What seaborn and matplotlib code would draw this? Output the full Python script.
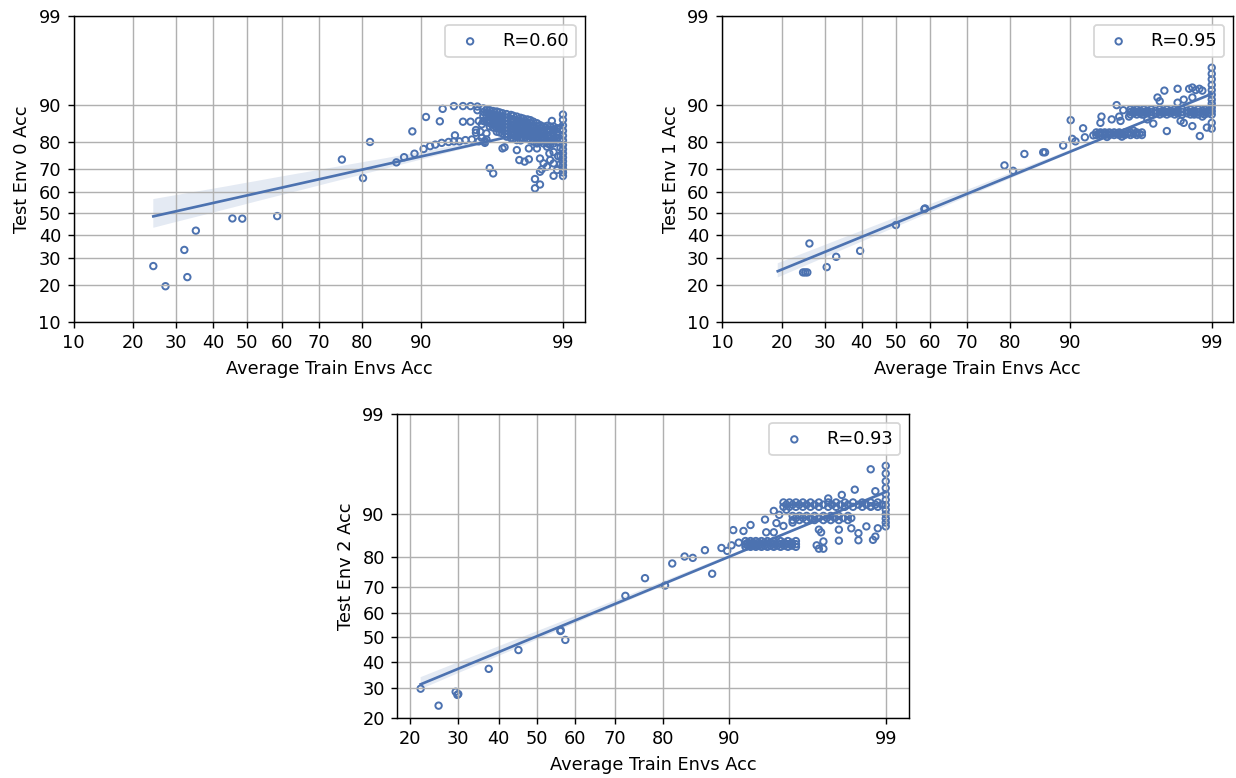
from statistics import NormalDist

import numpy as np
import pandas as pd
import seaborn as sns
from matplotlib import pyplot as plt

# accuracies in percent
env0_train = [24.4, 27.3, 32.1, 32.9, 35.2, 45.6, 48.5, 58.7, 75.7, 80.3, 81.7, 86.4, 87.6, 89.1, 88.8,
              90.3, 90.6, 92.2, 92.5, 93.6, 94.4, 94.4, 95.0, 95.0, 93.7,
              91.1, 91.7, 92.4, 93.1, 93.6, 94.1, 94.6, 95.1, 95.6, 96.0, 96.1, 95.8, 96.0,
              95.4, 95.8, 95.6, 95.9, 96.2, 95.4, 95.7, 96.1,
              95.5, 95.5, 95.9, 95.9, 95.9,
              96.3, 96.3, 96.3, 96.3, 96.3, 96.3,
              96.7, 96.7, 96.7, 96.7, 96.7, 96.7, 96.7,
              97.0, 97.0, 97.0, 97.0, 97.0, 97.0, 97.0,
              97.4, 97.4, 97.4, 97.4, 97.4, 97.4, 97.4, 97.4,
              97.65, 97.65, 97.65, 97.65, 97.65, 97.65, 97.65, 97.65,
              97.9, 97.9, 97.9, 97.9, 97.9, 97.9, 97.9,
              98.15, 98.15, 98.15, 98.15, 98.15, 98.15, 98.15,
              98.36, 98.36, 98.36, 98.36, 98.36, 98.36, 98.36,
              98.55, 98.55, 98.55, 98.55, 98.55, 98.55,
              98.72, 98.72, 98.72, 98.72, 98.72, 98.72,
              98.88, 98.88, 98.88, 98.88, 98.88,
              96.1, 96.1, 96.1, 96.1,
              96.5, 96.5, 96.5, 96.5, 96.5, 96.5,
              96.85, 96.85, 96.85, 96.85, 96.85, 96.85, 96.85,
              97.2, 97.2, 97.2, 97.2, 97.2, 97.2, 97.2, 97.2,
              97.5, 97.5, 97.5, 97.5, 97.5, 97.5, 97.5, 97.5,
              97.8, 97.8, 97.8, 97.8, 97.8, 97.8, 97.8, 97.8,
              98.05, 98.05, 98.05, 98.05, 98.05, 98.05, 98.05,
              98.25, 98.25, 98.25, 98.25, 98.25, 98.25, 98.25,
              98.45, 98.45, 98.45, 98.45, 98.45, 98.45,
              98.65, 98.65, 98.65, 98.65, 98.65, 98.65,
              98.8, 98.8, 98.8, 98.8, 98.8, 98.8,
              97.0, 97.65, 98.1, 98.36, 97.75, 97.95, 98.1, 98.45, 98.55, 98.64, 98.45, 98.5, 98.72,
              98.8, 98.88, 98.8, 98.3, 98.45, 98.3, 96.3, 96.5, 98.76, 98.64, 98.8, 98.9, 98.7, 97.1,
              99.0, 99.0, 99.0, 99.0, 99.0, 99.0, 99.0, 99.0, 99.0, 99.0, 99.0, 99.0, 99.0, 99.0, 99.0,
              98.95, 98.95, 98.95, 98.95, 98.95]
env0_test = [26.7, 19.5, 33.3, 22.6, 41.9, 47.6, 47.5, 48.7, 73.7, 66.1, 80.0, 72.6, 74.6, 75.9, 83.3,
             77.6, 87.2, 86.1, 89.1, 89.7, 89.7, 86.0, 86.0, 89.7, 82.1,
             78.6, 79.1, 79.7, 80.0, 80.2, 80.2, 80.6, 80.8, 80.2, 79.7, 80.8, 81.3, 80.3,
             83.7, 85.3, 86.2, 86.2, 86.2, 82.9, 83.2, 82.7,
             89.6, 88.8, 89.2, 88.4, 87.5,
             88.8, 88.1, 87.3, 86.4, 85.6, 84.7,
             88.5, 87.7, 86.8, 86.0, 85.1, 84.2, 83.2,
             88.1, 87.3, 86.4, 85.6, 84.7, 83.7, 82.7,
             87.7, 86.8, 86.0, 85.1, 84.2, 83.2, 82.2, 81.2,
             87.3, 86.4, 85.6, 84.7, 83.7, 82.7, 81.7, 80.6,
             86.8, 86.0, 85.1, 84.2, 83.2, 82.2, 81.2,
             86.4, 85.6, 84.7, 83.7, 82.7, 81.7, 80.6,
             85.6, 84.7, 83.7, 82.7, 81.7, 80.6, 79.5,
             84.7, 83.7, 82.7, 81.7, 80.6, 79.5,
             84.7, 83.7, 82.2, 81.2, 80.1, 79.0,
             84.2, 83.2, 82.2, 81.2, 80.1,
             88.9, 88.2, 87.0, 85.9,
             88.6, 87.9, 87.0, 86.2, 85.3, 84.4,
             88.3, 87.5, 86.6, 85.8, 84.9, 84.0, 83.0,
             87.9, 87.0, 86.2, 85.3, 84.4, 83.5, 82.5, 81.7,
             87.5, 86.6, 85.8, 84.9, 84.0, 83.0, 82.0, 81.0,
             87.0, 86.2, 85.3, 84.4, 83.5, 82.5, 81.5, 80.5,
             86.6, 85.8, 84.9, 84.0, 83.0, 82.0, 81.0,
             86.0, 85.1, 84.2, 83.2, 82.2, 81.2, 80.1,
             85.1, 84.2, 83.2, 82.2, 81.2, 80.1,
             84.9, 84.0, 83.0, 81.7, 80.6, 79.5,
             84.7, 83.7, 82.7, 81.7, 80.6, 79.5,
             77.8, 77.2, 77.8, 77.8, 73.5, 72.9, 73.8, 74.1, 72.2, 70.9, 68.8, 69.8, 73.5,
             72.2, 69.5, 67.1, 65.7, 63.3, 61.6, 70.3, 68.1, 86.2, 78.4, 76.5, 75.0, 76.0, 78.2,
             87.8, 86.5, 85.0, 83.5, 82.0, 80.5, 79.0, 77.5, 76.0, 74.5, 73.0, 71.5, 70.0, 68.5, 67.0,
             84.0, 81.0, 78.0, 75.0, 72.0]

env1_train = [19.2, 24.7, 25.2, 25.7, 26.2, 30.5, 33.0, 39.6, 50.0, 58.3, 58.5, 78.8, 80.6, 82.8, 86.1, 86.4,
              89.1, 90.1, 90.3, 90.7, 91.6, 91.8, 92.7, 93.4, 93.5, 94.8, 95.3, 95.0, 95.7, 94.4, 95.1,
              93.0, 93.0, 93.4, 93.4, 93.8, 93.8, 94.2, 94.2, 94.6, 94.6, 95.0, 95.0, 95.4, 95.4,
              95.8, 95.8, 96.2, 96.2, 96.5, 96.5, 94.0, 95.2, 96.0,
              93.2, 93.6, 94.0, 94.4, 94.8, 95.2, 95.6, 96.0, 96.35,
              95.8, 95.8, 95.8, 96.2, 96.2, 96.2, 96.6, 96.6, 96.6, 97.0, 97.0, 97.0, 97.4, 97.4, 97.4,
              97.7, 97.7, 97.7, 98.0, 98.0, 98.0, 98.25, 98.25, 98.25, 98.5, 98.5, 98.5,
              98.7, 98.7, 98.7, 98.85, 98.85, 98.85,
              96.0, 96.0, 96.4, 96.4, 96.8, 96.8, 97.2, 97.2, 97.55, 97.55, 97.85, 97.85,
              98.1, 98.1, 98.4, 98.4, 98.6, 98.6, 98.8, 98.8, 98.93, 98.93,
              97.3, 97.6, 98.1, 98.46, 98.55, 98.64, 98.73, 98.8, 97.4, 98.1, 98.3, 98.55,
              97.1, 97.7, 98.2, 98.3, 98.55, 98.74, 98.9, 99.0, 99.0, 96.8, 96.5, 98.6, 98.8,
              99.0, 99.0, 99.0, 99.0, 99.0, 99.0, 99.0, 99.0, 99.0, 99.0, 99.0]
env1_test = [9.0, 24.3, 24.3, 24.3, 36.1, 26.3, 30.4, 32.9, 44.5, 52.0, 52.3, 71.4, 69.2, 75.8, 76.4, 76.4,
             78.8, 86.4, 81.0, 80.2, 84.2, 81.5, 82.1, 85.7, 87.3, 89.9, 88.8, 87.3, 87.3, 86.6, 86.2,
             83.0, 82.2, 83.0, 82.2, 83.0, 82.2, 83.0, 82.2, 83.0, 82.2, 83.0, 82.2, 83.0, 82.2,
             83.0, 82.2, 83.0, 82.2, 83.0, 82.2, 81.6, 81.7, 83.5,
             82.6, 82.6, 82.6, 82.6, 82.6, 82.6, 82.6, 82.6, 82.6,
             89.0, 88.4, 87.8, 89.0, 88.4, 87.8, 89.0, 88.4, 87.8, 89.0, 88.4, 87.8, 89.0, 88.4, 87.8,
             89.0, 88.4, 87.8, 89.0, 88.4, 87.8, 89.0, 88.4, 87.8, 89.0, 88.4, 87.8,
             89.0, 88.4, 87.8, 89.0, 88.4, 87.8,
             88.7, 88.1, 88.7, 88.1, 88.7, 88.1, 88.7, 88.1, 88.7, 88.1, 88.7, 88.1,
             88.7, 88.1, 88.7, 88.1, 88.7, 88.1, 88.7, 88.1, 88.7, 88.1,
             91.4, 92.6, 92.9, 92.9, 93.1, 92.7, 92.9, 92.6, 90.7, 90.4, 91.0, 91.4,
             85.5, 83.4, 86.2, 85.7, 84.8, 81.9, 84.4, 84.1, 85.7, 86.6, 87.8, 87.8, 87.3,
             95.7, 95.0, 94.3, 93.5, 92.7, 91.9, 91.0, 90.2, 89.4, 88.6, 87.8]

env2_train = [22.0, 25.7, 29.5, 29.9, 30.1, 37.5, 45.2, 56.3, 56.4, 57.6, 72.3, 76.5, 80.4, 81.7, 83.8, 85.1,
              86.9, 87.9, 89.1, 89.8, 90.3, 90.5, 91.1, 91.6, 92.3, 93.6, 93.7, 94.3, 94.3, 94.5, 95.0,
              95.6, 94.7, 95.2,
              91.8, 91.8, 91.8, 92.3, 92.3, 92.3, 92.8, 92.8, 92.8, 93.3, 93.3, 93.3, 93.8, 93.8, 93.8,
              94.3, 94.3, 94.3, 94.8, 94.8, 94.8, 95.3, 95.3, 95.3, 95.8, 95.8, 95.8,
              92.05, 92.05, 92.55, 92.55, 93.05, 93.05, 93.55, 93.55, 94.05, 94.05, 94.55, 94.55,
              95.05, 95.05, 95.55, 95.55,
              95.0, 95.0, 95.4, 95.4, 95.8, 95.8, 96.2, 96.2, 96.6, 96.6, 97.0, 97.0, 97.4, 97.4,
              97.7, 97.7, 98.0, 98.0, 98.25, 98.25, 98.5, 98.5, 98.7, 98.7, 98.85, 98.85,
              95.2, 95.6, 96.0, 96.4, 96.8, 97.2, 97.55, 97.85, 98.1, 98.4, 98.6, 98.8, 98.93,
              95.6, 95.6, 96.0, 96.0, 96.4, 96.4, 96.8, 96.8, 97.2, 97.2, 97.5, 97.5, 97.8, 97.8, 98.1, 98.1,
              95.8, 96.2, 96.6, 97.0, 97.35, 97.65, 97.95,
              97.4, 97.9, 98.3, 98.8, 98.7, 97.0, 97.1, 97.2, 96.9, 97.0, 97.2, 97.8, 97.8, 98.2, 98.2,
              98.4, 98.4, 98.6, 98.7, 98.75, 98.8, 98.85,
              99.0, 99.0, 99.0, 99.0, 99.0, 99.0, 99.0, 99.0, 99.0, 99.0, 99.0, 99.0]
env2_test = [29.6, 23.8, 28.5, 27.4, 27.7, 37.1, 44.7, 52.6, 52.9, 48.9, 66.7, 73.1, 70.5, 77.9, 80.0, 79.6,
             81.8, 74.6, 82.4, 81.6, 83.1, 86.8, 83.8, 86.6, 87.9, 89.0, 86.3, 86.3, 90.6, 88.3, 87.7,
             88.4, 89.9, 90.8,
             84.2, 83.4, 82.7, 84.2, 83.4, 82.7, 84.2, 83.4, 82.7, 84.2, 83.4, 82.7, 84.2, 83.4, 82.7,
             84.2, 83.4, 82.7, 84.2, 83.4, 82.7, 84.2, 83.4, 82.7, 84.2, 83.4, 82.7,
             83.8, 83.0, 83.8, 83.0, 83.8, 83.0, 83.8, 83.0, 83.8, 83.0, 83.8, 83.0,
             83.8, 83.0, 83.8, 83.0,
             92.0, 91.3, 92.0, 91.3, 92.0, 91.3, 92.0, 91.3, 92.0, 91.3, 92.0, 91.3, 92.0, 91.3,
             92.0, 91.3, 92.0, 91.3, 92.0, 91.3, 92.0, 91.3, 92.0, 91.3, 92.0, 91.3,
             91.65, 91.65, 91.65, 91.65, 91.65, 91.65, 91.65, 91.65, 91.65, 91.65, 91.65, 91.65, 91.65,
             89.7, 88.9, 89.7, 88.9, 89.7, 88.9, 89.7, 88.9, 89.7, 88.9, 89.7, 88.9, 89.7, 88.9, 89.7, 88.9,
             89.3, 89.3, 89.3, 89.3, 89.3, 89.3, 89.3,
             92.6, 93.1, 93.8, 93.6, 96.0, 86.9, 86.3, 84.1, 83.1, 82.2, 82.2, 86.9, 84.3, 89.3, 87.2,
             86.1, 84.4, 87.6, 91.4, 84.5, 85.3, 87.2,
             96.3, 95.6, 94.8, 94.0, 93.2, 92.4, 91.6, 90.8, 90.0, 89.2, 88.4, 87.6]

r_values = [0.60, 0.95, 0.93]
ticks_top = [10, 20, 30, 40, 50, 60, 70, 80, 90, 99]
ticks_bottom = [20, 30, 40, 50, 60, 70, 80, 90, 99]

probit = np.vectorize(NormalDist().inv_cdf)
blue = '#4c72b0'


def to_probit(pct):
    return probit(np.asarray(pct, dtype=float) / 100.0)


def plot_env(ax, train, test, r, env, xticks, yticks, xlim, ylim):
    df = pd.DataFrame({'train': to_probit(train), 'test': to_probit(test)})
    sns.regplot(data=df, x='train', y='test', ax=ax, color=blue, label=f'R={r:.2f}', seed=0, ci=68,
                scatter_kws=dict(facecolors='none', s=13, linewidths=1.1, alpha=1),
                line_kws=dict(lw=1.5))
    ax.set_xticks(to_probit(xticks))
    ax.set_xticklabels([str(t) for t in xticks])
    ax.set_yticks(to_probit(yticks))
    ax.set_yticklabels([str(t) for t in yticks])
    ax.set_xlim(*xlim)
    ax.set_ylim(*ylim)
    ax.grid(True)
    ax.set_xlabel('Average Train Envs Acc')
    ax.set_ylabel(f'Test Env {env} Acc')
    ax.legend(loc='upper right')


fig = plt.figure(figsize=(1236 / 128, 778 / 128), dpi=128)
ax0 = fig.add_axes([0.0595, 0.5861, 0.4136, 0.3933])
ax1 = fig.add_axes([0.5841, 0.5861, 0.4137, 0.3933])
ax2 = fig.add_axes([0.3214, 0.0771, 0.4140, 0.3907])

top_ylim = (to_probit(10), to_probit(99))
plot_env(ax0, env0_train, env0_test, r_values[0], 0, ticks_top, ticks_top,
         (to_probit(10), 2.487), top_ylim)
plot_env(ax1, env1_train, env1_test, r_values[1], 1, ticks_top, ticks_top,
         (to_probit(10), 2.485), top_ylim)
plot_env(ax2, env2_train, env2_test, r_values[2], 2, ticks_bottom, ticks_bottom,
         (-0.928, 2.481), (to_probit(20), to_probit(99)))

fig.savefig('out.png', dpi=128)
